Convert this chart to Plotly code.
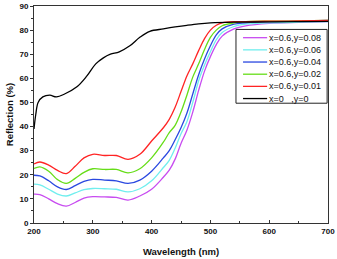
import plotly.graph_objects as go

# ---- data ----
wl = [200, 210, 225, 240, 255, 270, 285, 300, 320, 340, 360, 380, 400, 420, 430,
      440, 450, 460, 470, 480, 490, 500, 510, 520, 540, 560, 600, 650, 700]

r_008 = [12.0, 11.8, 10.0, 8.0, 7.0, 8.5, 10.3, 10.9, 10.8, 10.6, 9.5, 11.2, 14.0, 19.0, 21.9,
         26.5, 33.0, 38.5, 46.0, 55.0, 63.0, 69.0, 74.0, 77.5, 80.5, 81.8, 82.8, 83.2, 83.5]
r_006 = [16.1, 15.8, 14.0, 12.0, 11.2, 12.5, 13.8, 14.3, 14.2, 14.0, 12.9, 14.2, 17.5, 23.0, 26.0,
         31.0, 37.0, 42.0, 50.0, 59.0, 65.5, 71.0, 76.0, 79.0, 81.5, 82.5, 83.0, 83.3, 83.5]
r_004 = [19.8, 19.5, 17.5, 15.0, 13.9, 15.5, 17.3, 18.1, 17.8, 17.5, 16.4, 17.8, 21.5, 27.0, 30.0,
         34.5, 39.5, 45.5, 53.5, 61.5, 68.0, 73.5, 78.0, 80.5, 82.5, 83.0, 83.5, 83.7, 84.0]
r_002 = [22.6, 23.3, 21.5, 18.0, 16.4, 18.5, 21.0, 22.5, 22.2, 22.2, 20.8, 22.5, 27.0, 33.5, 37.5,
         40.5, 46.0, 53.0, 60.5, 66.0, 72.0, 77.0, 80.0, 81.8, 83.0, 83.5, 83.7, 83.8, 84.0]
r_001 = [24.5, 25.3, 24.0, 21.8, 20.5, 23.5, 27.0, 28.5, 28.0, 28.0, 26.4, 28.5, 34.0, 39.5, 43.0,
         48.0, 54.5, 61.0, 66.0, 71.5, 76.5, 80.0, 82.0, 83.0, 83.5, 83.5, 83.7, 83.8, 84.0]

wl_0 = [200, 203, 207, 215, 227, 238, 252, 273, 290, 305, 318, 330, 345, 363, 380,
        397, 420, 440, 460, 480, 500, 540, 600, 700]
r_0 = [39.0, 45.0, 50.0, 52.3, 53.0, 52.3, 53.5, 56.5, 61.0, 66.0, 68.5, 70.0, 71.0, 73.5, 77.0,
       79.5, 80.5, 81.3, 82.0, 82.6, 83.0, 83.3, 83.4, 83.6]

names = ["x=0.6,y=0.08", "x=0.6,y=0.06", "x=0.6,y=0.04", "x=0.6,y=0.02", "x=0.6,y=0.01", "x=0   ,y=0"]
colors = ["#c84cf0", "#70eeee", "#2a48e0", "#66dd18", "#ff2424", "#000000"]
series_x = [wl, wl, wl, wl, wl, wl_0]
series_y = [r_008, r_006, r_004, r_002, r_001, r_0]

x_ticks = [200, 300, 400, 500, 600, 700]
y_ticks = [0, 10, 20, 30, 40, 50, 60, 70, 80, 90]

fig = go.Figure()
for xs, ys, nm, c in zip(series_x, series_y, names, colors):
    fig.add_trace(go.Scatter(x=xs, y=ys, name=nm, mode="lines",
                             line=dict(color=c, width=1.3, shape="spline", smoothing=1.0),
                             showlegend=False))

# custom compact legend (frame, sample lines, labels)
lx0, lx1, ly0, ly1 = 0.687, 0.997, 0.552, 0.892
fig.add_shape(type="rect", xref="paper", yref="paper", x0=lx0, x1=lx1, y0=ly0, y1=ly1,
              line=dict(color="#222222", width=1), fillcolor="white", layer="above")
for i, (nm, c) in enumerate(zip(names, colors)):
    yy = 0.854 - i * 0.0561
    fig.add_shape(type="line", xref="paper", yref="paper", x0=0.711, x1=0.793, y0=yy, y1=yy,
                  line=dict(color=c, width=1.3), layer="above")
    fig.add_annotation(xref="paper", yref="paper", x=0.793, y=yy, text=nm, showarrow=False,
                       xanchor="left", yanchor="middle",
                       font=dict(family="Liberation Sans, Arial", size=9, color="#111111"))

fig.update_layout(
    width=337, height=259,
    margin=dict(l=34, r=9, t=6, b=36),
    paper_bgcolor="white", plot_bgcolor="white",
    font=dict(family="Liberation Sans, Arial", color="#111111"),
)
fig.update_xaxes(range=[200, 700], tickvals=x_ticks, ticks="inside", ticklen=3, tickwidth=1,
                 tickcolor="#333333", showline=True, linecolor="#333333", linewidth=1, mirror=True,
                 showgrid=False, zeroline=False, automargin=False,
                 minor=dict(dtick=50, tick0=200, ticks="inside", ticklen=2, tickcolor="#333333"),
                 tickfont=dict(size=8, weight="bold"),
                 title=dict(text="Wavelength (nm)", font=dict(size=9.5, weight="bold"), standoff=13))
fig.update_yaxes(range=[0, 90], tickvals=y_ticks, ticks="outside", ticklen=3, tickwidth=1,
                 tickcolor="#333333", showline=True, linecolor="#333333", linewidth=1, mirror=True,
                 showgrid=False, zeroline=False, automargin=False,
                 minor=dict(dtick=5, tick0=0, ticks="outside", ticklen=2, tickcolor="#333333"),
                 tickfont=dict(size=8, weight="bold"),
                 title=dict(text="Reflection (%)", font=dict(size=9.5, weight="bold"), standoff=4))

fig.write_html("out.html", config={"displayModeBar": False},
               post_script="document.body.style.margin='0';")
